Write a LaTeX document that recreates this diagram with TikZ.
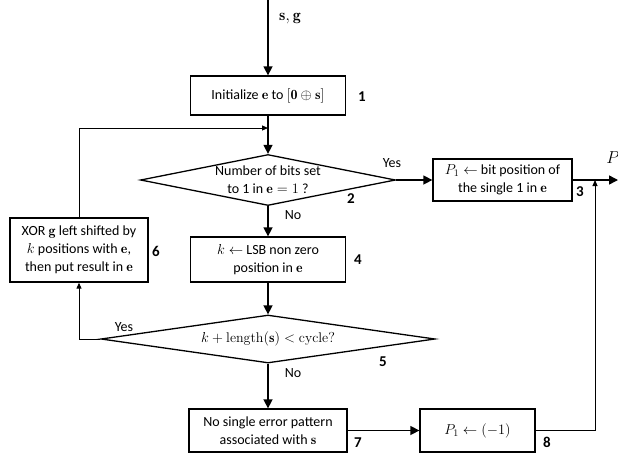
\documentclass[tikz,border=0pt]{standalone}
\usepackage{fontspec}
\setmainfont{Carlito}
\setmathrm{Latin Modern Roman}
\usetikzlibrary{shapes.geometric, arrows.meta}

\newcommand{\vb}[1]{\mbox{\fontfamily{lmr}\bfseries #1}}

\tikzset{
	stepbox/.style = {draw, line width = 1.3pt, align = center, inner sep = 2pt},
	choice/.style = {draw, line width = 1.3pt, diamond, align = center, inner sep = 0pt, aspect = 5},
	flow/.style = {line width = 1.5pt, -{Triangle[length = 9pt, width = 9pt]}},
	back/.style = {line width = 1pt, -{Triangle[length = 6pt, width = 5pt]}},
	tag/.style = {font = \fontsize{15}{18}\selectfont\bfseries},
}

\begin{document}
\begin{tikzpicture}[x = 1pt, y = -1pt, font = \fontsize{14}{18}\selectfont]
				%	frame
				\useasboundingbox (0, 0) rectangle (618, 453);
				
				\def\xm{268}
				
				%	boxes
				\node[stepbox, minimum width = 155, minimum height = 39] (init) at (\xm, 95.5) {Initialize $\vb{e}$ to $[\vb{0} \oplus \vb{s}]$};
				\node[choice, minimum width = 255, minimum height = 51] (single) at (\xm, 180) {Number of bits set\\to 1 in $\vb{e} = 1$ ?};
				\node[stepbox, minimum width = 139, minimum height = 42] (pos) at (502.5, 180) {$P_1 \leftarrow$ bit position of\\the single 1 in $\vb{e}$};
				\node[stepbox, minimum width = 155, minimum height = 45] (lsb) at (\xm, 259.5) {$k \leftarrow$ LSB non zero\\position in $\vb{e}$};
				\node[choice, minimum width = 334, minimum height = 48] (cycle) at (\xm, 339) {$k + \mathrm{length}(\vb{s}) < \mathrm{cycle?}$};
				\node[stepbox, minimum width = 138, minimum height = 64] (xor) at (79, 250) {XOR $\vb{g}$ left shifted by\\$k$ positions with $\vb{e}$,\\then put result in $\vb{e}$};
				\node[stepbox, minimum width = 158, minimum height = 43] (none) at (\xm, 430.5) {No single error pattern\\associated with $\vb{s}$};
				\node[stepbox, minimum width = 115, minimum height = 43] (fail) at (477.5, 430.5) {$P_1 \leftarrow (-1)$};
				
				%	step numbers
				\node[tag] (t1) at (362, 97) {1};
				\node[tag] (t2) at (351, 199) {2};
				\node[tag] (t3) at (580, 192) {3};
				\node[tag] (t4) at (358, 260) {4};
				\node[tag] (t5) at (383, 362) {5};
				\node[tag] (t6) at (156, 251) {6};
				\node[tag] (t7) at (358, 443) {7};
				\node[tag] (t8) at (547, 442) {8};
				
				%	ends
				\coordinate (in) at (\xm, 0);
				\coordinate (join) at (\xm, 128);
				\coordinate (merge) at (595, 180);
				\coordinate (out) at (618, 180);
				\node (sg) at (290, 19) {\fontsize{16}{18}\selectfont$\vb{s}, \vb{g}$};
				\node (pout) at (613, 158) {\fontsize{17}{18}\selectfont$P$};
				
				%	connectors
				\draw[flow] (in) -- (init);
				\draw[flow] (init) -- (single);
				\draw[flow] (single) -- (pos);
				\draw[flow] (single) -- (lsb);
				\draw[flow] (lsb) -- (cycle);
				\draw[back] (cycle.west) -| (xor.south);
				\draw[back] (xor.north) |- (join);
				\draw[flow] (cycle) -- (none);
				\draw[flow] (none) -- (fail);
				\draw[back] (fail.east) -| (merge);
				\draw[flow] (pos.east) -- (out);
				
				%	answers
				\node (yes1) at (392, 163) {Yes};
				\node (no1) at (293, 215) {No};
				\node (yes2) at (124, 327) {Yes};
				\node (no2) at (293, 373) {No};
\end{tikzpicture}
\end{document}
